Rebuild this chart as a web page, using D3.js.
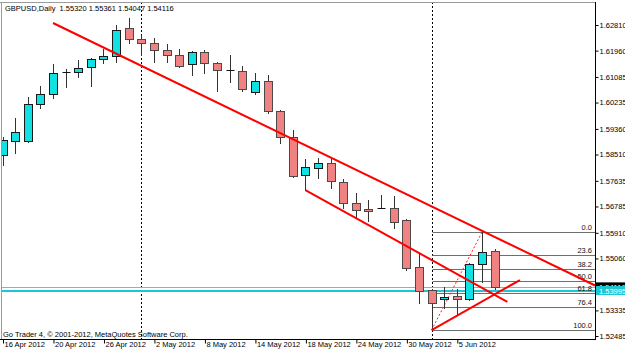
<!DOCTYPE html>
<html>
<head>
<meta charset="utf-8">
<script src="https://cdn.jsdelivr.net/npm/d3@7"></script>
<style>
  body { margin: 0; background: #fff; }
  svg { display: block; font-family: "Liberation Sans", Arial, sans-serif; }
</style>
</head>
<body>
<svg id="chart" width="625" height="353"></svg>
<script>
const symbol = 'GBPUSD,Daily';
const dates = [
  '16 Apr 2012', '17 Apr 2012', '18 Apr 2012', '19 Apr 2012', '20 Apr 2012',
  '23 Apr 2012', '24 Apr 2012', '25 Apr 2012', '26 Apr 2012', '27 Apr 2012',
  '30 Apr 2012', '1 May 2012', '2 May 2012', '3 May 2012', '4 May 2012',
  '7 May 2012', '8 May 2012', '9 May 2012', '10 May 2012', '11 May 2012',
  '14 May 2012', '15 May 2012', '16 May 2012', '17 May 2012', '18 May 2012',
  '21 May 2012', '22 May 2012', '23 May 2012', '24 May 2012', '25 May 2012',
  '28 May 2012', '29 May 2012', '30 May 2012', '31 May 2012', '1 Jun 2012',
  '4 Jun 2012', '5 Jun 2012', '6 Jun 2012', '7 Jun 2012', '8 Jun 2012'
];
const open = [
  1.58494, 1.58959, 1.58959, 1.60187, 1.60519, 1.61250, 1.61250, 1.61416, 1.61681, 1.61781,
  1.62711, 1.62345, 1.62213, 1.61980, 1.61814, 1.61515, 1.61914, 1.61549, 1.61300, 1.61283,
  1.60586, 1.60951, 1.59955, 1.59092, 1.57830, 1.58063, 1.58229, 1.57598, 1.56901, 1.56701,
  1.56751, 1.56735, 1.56336, 1.54776, 1.54012, 1.53713, 1.53813, 1.53713, 1.54875, 1.55320
];
const high = [
  1.59092, 1.59723, 1.60420, 1.60785, 1.61515, 1.61349, 1.61648, 1.61715, 1.62013, 1.62810,
  1.63043, 1.62478, 1.62379, 1.62179, 1.62013, 1.61947, 1.61980, 1.61582, 1.61814, 1.61449,
  1.61217, 1.61150, 1.59988, 1.59324, 1.58361, 1.58395, 1.58428, 1.57697, 1.57233, 1.57000,
  1.57166, 1.57133, 1.56369, 1.55207, 1.54045, 1.54112, 1.54045, 1.54909, 1.55938, 1.55361
];
const low = [
  1.58162, 1.58561, 1.58926, 1.60055, 1.60387, 1.60752, 1.61084, 1.60785, 1.61549, 1.61582,
  1.62213, 1.61814, 1.61582, 1.61582, 1.61416, 1.61150, 1.61217, 1.60619, 1.60918, 1.60619,
  1.60519, 1.59889, 1.58893, 1.57764, 1.57332, 1.57731, 1.57399, 1.56735, 1.56436, 1.56303,
  1.56735, 1.56071, 1.54676, 1.53581, 1.52684, 1.53415, 1.53182, 1.53680, 1.54278, 1.54047
];
const close = [
  1.58992, 1.59258, 1.60187, 1.60519, 1.61217, 1.61250, 1.61383, 1.61681, 1.61781, 1.62644,
  1.62345, 1.62213, 1.61980, 1.61814, 1.61449, 1.61914, 1.61549, 1.61316, 1.61300, 1.60685,
  1.60951, 1.59955, 1.59092, 1.57797, 1.58096, 1.58229, 1.57631, 1.56901, 1.56668, 1.56635,
  1.56751, 1.56270, 1.54743, 1.53979, 1.53581, 1.53780, 1.53713, 1.54875, 1.55274, 1.54116
];

// 1.54185 sits under the bid label, so it is left out
const priceTicks = [1.62810, 1.61960, 1.61085, 1.60235, 1.59360, 1.58510, 1.57635,
  1.56785, 1.55910, 1.55060, 1.53335, 1.52485];
const dateTicks = ['16 Apr 2012', '20 Apr 2012', '26 Apr 2012', '2 May 2012', '8 May 2012',
  '14 May 2012', '18 May 2012', '24 May 2012', '30 May 2012', '5 Jun 2012'];
const separators = ['1 May 2012', '1 Jun 2012'];

// trend lines: [bar index, price] pairs
const trendLines = [
  {a: [4, 1.62877], b: [39, 1.55775], ray: true},
  {a: [24, 1.57332], b: [40, 1.53614]},
  {a: [34, 1.52684], b: [41, 1.54344]}
];
const fibFrom = [34, 1.52684];
const fibTo = [38, 1.55938];
const fibLevels = [0, 23.6, 38.2, 50, 61.8, 76.4, 100];
const hLinePrice = 1.53995;
const copyright = 'Go Trader 4, \u00a9 2001-2012, MetaQuotes Software Corp.';

const W = 625, H = 353;
const plot = {left: 1, top: 2, right: 595, bottom: 339};
const font = 7.5;

const x = d3.scaleLinear().domain([0, dates.length - 1]).range([2.5, 494.7]);
const y = d3.scaleLinear().domain([1.52485, 1.62810]).range([336, 25]);
const px = v => Math.round(v) + 0.5;

const svg = d3.select('#chart');
svg.append('rect').attr('width', W).attr('height', H).attr('fill', '#fff');

svg.append('defs').append('clipPath').attr('id', 'clip')
  .append('rect')
  .attr('x', plot.left + 1).attr('y', plot.top + 1)
  .attr('width', plot.right - plot.left - 1)
  .attr('height', plot.bottom - plot.top - 1);

const g = svg.append('g').attr('clip-path', 'url(#clip)');

// monthly period separators
g.selectAll('.sep')
  .data(separators)
  .join('line')
  .attr('x1', d => px(x(dates.indexOf(d))))
  .attr('x2', d => px(x(dates.indexOf(d))))
  .attr('y1', plot.top).attr('y2', plot.bottom)
  .attr('stroke', '#000')
  .attr('stroke-dasharray', '2,2');

// bid line and horizontal line
const last = close[close.length - 1];
g.append('line')
  .attr('x1', 0).attr('x2', plot.right)
  .attr('y1', px(y(last))).attr('y2', px(y(last)))
  .attr('stroke', '#a8a8a8');
g.append('line')
  .attr('x1', 0).attr('x2', plot.right)
  .attr('y1', Math.round(y(hLinePrice))).attr('y2', Math.round(y(hLinePrice)))
  .attr('stroke', '#1cc6d4')
  .attr('stroke-width', 2);

// fibonacci retracement
const fibRange = fibTo[1] - fibFrom[1];
const fib = fibLevels.map(l => ({l, p: fibTo[1] - fibRange * l / 100}));
g.selectAll('.fib')
  .data(fib)
  .join('line')
  .attr('x1', px(x(fibFrom[0]))).attr('x2', plot.right)
  .attr('y1', d => px(y(d.p))).attr('y2', d => px(y(d.p)))
  .attr('stroke', '#6e6e6e');
g.selectAll('.fibLabel')
  .data(fib)
  .join('text')
  .attr('x', plot.right - 3)
  .attr('y', d => Math.round(y(d.p)) - 2)
  .attr('text-anchor', 'end')
  .style('font-size', `${font}px`)
  .attr('fill', '#111')
  .text(d => d.l.toFixed(1));
g.append('line')
  .attr('x1', x(fibFrom[0])).attr('y1', y(fibFrom[1]))
  .attr('x2', x(fibTo[0])).attr('y2', y(fibTo[1]))
  .attr('stroke', '#ff2020')
  .attr('stroke-dasharray', '2,2');

// candles
const bars = dates.map((d, i) => ({i, o: open[i], h: high[i], l: low[i], c: close[i]}));
const candle = g.selectAll('.candle')
  .data(bars)
  .join('g');
candle.append('line')
  .attr('x1', d => px(x(d.i))).attr('x2', d => px(x(d.i)))
  .attr('y1', d => Math.round(y(d.h))).attr('y2', d => Math.round(y(d.l)) + 1)
  .attr('stroke', '#333');
candle.filter(d => d.o !== d.c)
  .append('rect')
  .attr('x', d => Math.round(x(d.i)) - 3.5)
  .attr('y', d => Math.round(y(Math.max(d.o, d.c))) + 0.5)
  .attr('width', 8)
  .attr('height', d => Math.max(1, Math.round(y(Math.min(d.o, d.c))) - Math.round(y(Math.max(d.o, d.c)))))
  .attr('fill', d => d.c > d.o ? '#10e2e4' : '#f08282')
  .attr('stroke', d => d.c > d.o ? '#1a1a1a' : '#4a4a4a');
candle.filter(d => d.o === d.c)
  .append('line')
  .attr('x1', d => Math.round(x(d.i)) - 3.5).attr('x2', d => Math.round(x(d.i)) + 4.5)
  .attr('y1', d => px(y(d.o))).attr('y2', d => px(y(d.o)))
  .attr('stroke', '#111');

// trend lines
trendLines.forEach(t => {
  let [x2, y2] = t.b;
  if (t.ray) {
    const slope = (t.b[1] - t.a[1]) / (t.b[0] - t.a[0]);
    x2 = x.invert(plot.right);
    y2 = t.a[1] + slope * (x2 - t.a[0]);
  }
  g.append('line')
    .attr('x1', x(t.a[0])).attr('y1', y(t.a[1]))
    .attr('x2', x(x2)).attr('y2', y(y2))
    .attr('stroke', '#ff0000')
    .attr('stroke-width', 2);
});

// frame
svg.append('line')
  .attr('x1', 0).attr('x2', plot.right)
  .attr('y1', plot.top + 0.5).attr('y2', plot.top + 0.5)
  .attr('stroke', '#9a9a9a');
svg.append('line')
  .attr('x1', plot.left + 0.5).attr('x2', plot.left + 0.5)
  .attr('y1', plot.top).attr('y2', plot.bottom)
  .attr('stroke', '#9a9a9a');

// price axis
const yAxis = d3.axisRight(y)
  .tickValues(priceTicks)
  .tickSize(3)
  .tickPadding(1)
  .tickFormat(d => d.toFixed(5));
const yAxisG = svg.append('g')
  .attr('transform', `translate(${plot.right + 0.5},0)`)
  .call(yAxis);
yAxisG.select('.domain').remove();
yAxisG.selectAll('text')
  .attr('font-family', null)
  .style('font-size', `${font}px`)
  .attr('fill', '#000');
yAxisG.selectAll('line').attr('stroke', '#000');

// price labels
const priceLabel = (p, bg, fg) => {
  const yy = y(p);
  svg.append('rect')
    .attr('x', plot.right + 1).attr('y', yy - 4.5)
    .attr('width', W - plot.right).attr('height', 9)
    .attr('fill', bg);
  svg.append('text')
    .attr('x', plot.right + 4).attr('y', yy + 3)
    .style('font-size', `${font}px`)
    .attr('fill', fg)
    .text(p.toFixed(5));
};
priceLabel(last, '#000', '#fff');
priceLabel(hLinePrice, '#1cc6d4', '#fff');

// time axis
const xAxis = d3.axisBottom(x)
  .tickValues(dateTicks.map(d => dates.indexOf(d)))
  .tickSize(4)
  .tickFormat(i => dates[i]);
const xAxisG = svg.append('g')
  .attr('transform', `translate(0,${plot.bottom + 0.5})`)
  .call(xAxis);
xAxisG.select('.domain').remove();
xAxisG.selectAll('.tick line')
  .attr('stroke', '#000')
  .attr('transform', 'translate(0.5,0)');
xAxisG.selectAll('text')
  .attr('font-family', null)
  .attr('text-anchor', 'start')
  .attr('x', 1.5)
  .attr('y', 2)
  .style('font-size', `${font}px`)
  .attr('fill', '#000');

svg.append('line')
  .attr('x1', 0).attr('x2', plot.right + 1)
  .attr('y1', plot.bottom + 0.5).attr('y2', plot.bottom + 0.5)
  .attr('stroke', '#000');
svg.append('line')
  .attr('x1', plot.right + 0.5).attr('x2', plot.right + 0.5)
  .attr('y1', plot.top).attr('y2', plot.bottom + 1)
  .attr('stroke', '#000');

// title and copyright
const n = dates.length - 1;
svg.append('text')
  .attr('x', 5).attr('y', 11)
  .style('font-size', `${font}px`)
  .style('white-space', 'pre')
  .attr('fill', '#000')
  .text(`${symbol}  ${[open[n], high[n], low[n], close[n]].map(v => v.toFixed(5)).join(' ')}`);
svg.append('text')
  .attr('x', 3).attr('y', 337)
  .style('font-size', `${font}px`)
  .attr('fill', '#000')
  .text(copyright);
</script>
</body>
</html>
